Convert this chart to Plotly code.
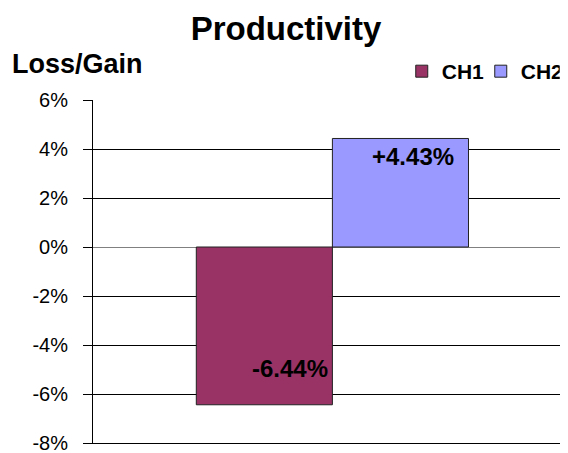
import plotly.graph_objects as go

# data
series = ["CH1", "CH2"]
values = [-6.44, 4.43]          # percent
labels = ["-6.44%", "+4.43%"]
colors = ["#993366", "#9999FF"]
tick_vals = [-8, -6, -4, -2, 0, 2, 4, 6]
tick_text = ["-8%", "-6%", "-4%", "-2%", "0%", "2%", "4%", "6%"]

FONT = "Arial, Liberation Sans, sans-serif"

fig = go.Figure()

for name, val, col in zip(series, values, colors):
    fig.add_trace(go.Bar(
        x=[0],
        y=[val],
        name=name,
        marker=dict(color=col, line=dict(color="#222222", width=1)),
        hoverinfo="skip",
    ))

# value labels inside the bars
fig.add_annotation(x=0, y=values[0], xref="x", yref="y", text="<b>%s</b>" % labels[0],
                   showarrow=False, xanchor="right", yanchor="bottom",
                   xshift=-2, yshift=21, font=dict(family=FONT, size=24, color="black"))
fig.add_annotation(x=0, y=values[1], xref="x", yref="y", text="<b>%s</b>" % labels[1],
                   showarrow=False, xanchor="right", yanchor="top",
                   xshift=124, yshift=-3, font=dict(family=FONT, size=24, color="black"))

# axis caption
fig.add_annotation(x=-0.175, y=1.106, xref="paper", yref="paper", text="<b>Loss/Gain</b>",
                   showarrow=False, xanchor="left", yanchor="middle",
                   font=dict(family=FONT, size=27, color="black"))

# the page body adds an 8px offset, so the figure is 8px smaller than the window
fig.update_layout(
    width=560, height=445,
    margin=dict(l=85, r=0, t=92, b=10),
    paper_bgcolor="white", plot_bgcolor="white",
    barmode="group", bargap=0.427, bargroupgap=0,
    title=dict(text="<b>Productivity</b>", x=0.4964, xref="container",
               y=0.953, yref="container", xanchor="center", yanchor="middle",
               font=dict(family=FONT, size=33, color="black")),
    legend=dict(orientation="h", x=0.65, xanchor="left", y=1.083, yanchor="middle",
                entrywidth=34, entrywidthmode="pixels",
                font=dict(family=FONT, size=21, color="black", weight="bold"),
                bgcolor="rgba(0,0,0,0)", itemclick=False, itemdoubleclick=False),
    showlegend=True,
)

fig.update_xaxes(range=[-0.504, 0.496], showticklabels=False, showgrid=False,
                 zeroline=False, showline=True, linecolor="black", linewidth=1,
                 ticks="")
fig.update_yaxes(range=[-8, 6], tickvals=tick_vals, ticktext=tick_text,
                 showgrid=True, gridcolor="black", gridwidth=1,
                 zeroline=True, zerolinecolor="#808080", zerolinewidth=1,
                 showline=True, linecolor="black", linewidth=1,
                 ticks="outside", ticklen=9, tickcolor="black",
                 ticklabelstandoff=11, ticklabeloverflow="allow", automargin=False,
                 tickfont=dict(family=FONT, size=20, color="black"))

fig.write_html("out.html")
